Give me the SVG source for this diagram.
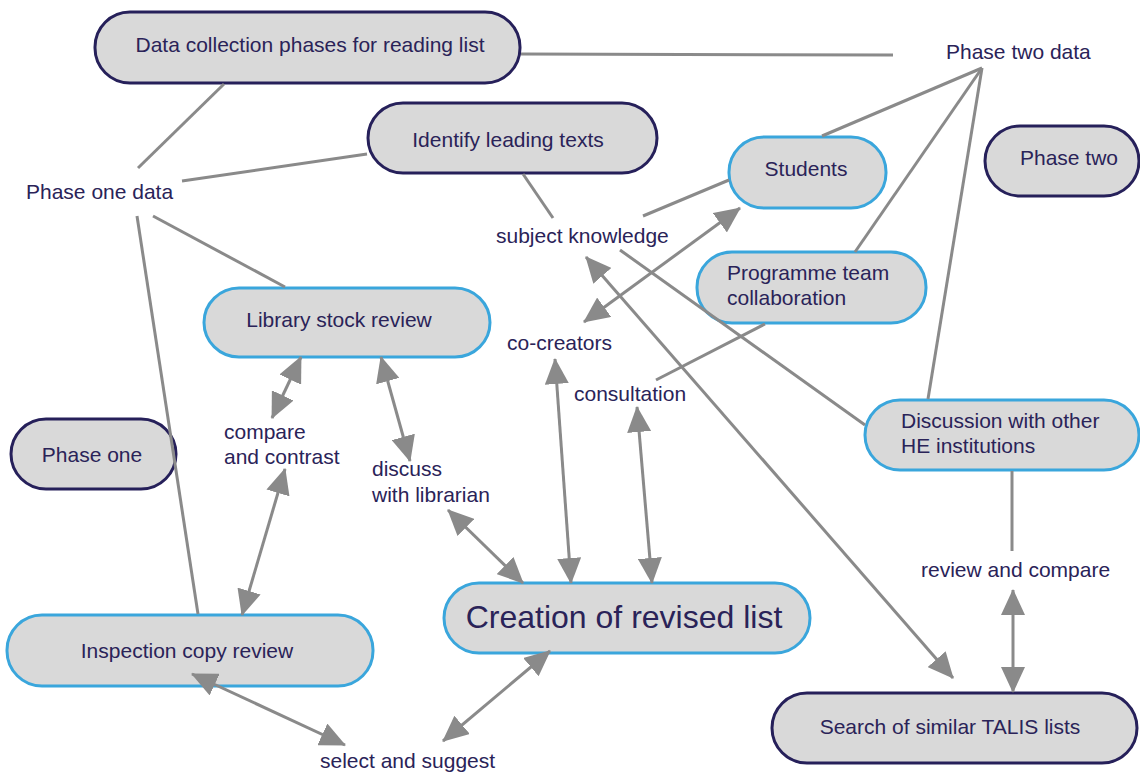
<svg xmlns="http://www.w3.org/2000/svg" width="1140" height="772" viewBox="0 0 1140 772">
<defs>
<style>
.nd{fill:#d9d9d9;stroke-width:3}
.dk{stroke:#26205a}
.bl{stroke:#3aa6dc}
text{font-family:"Liberation Sans",Arial,sans-serif;font-size:21px;fill:#2a2358}
.c{text-anchor:middle}
.ln{stroke:#8a8a8a;stroke-width:3;fill:none}
.ar{marker-start:url(#ah);marker-end:url(#ah)}
.a1{marker-end:url(#ah)}
</style>
<marker id="ah" markerUnits="userSpaceOnUse" markerWidth="26" markerHeight="24" refX="25" refY="12" orient="auto-start-reverse" viewBox="0 0 26 24">
<path d="M0,0 L26,12 L0,24 z" fill="#8a8a8a"/>
</marker>
</defs>
<rect width="1140" height="772" fill="#ffffff"/>
<g id="n-data-collection">
<rect class="nd dk" x="95" y="12" width="425" height="71" rx="35"/>
<text class="c" x="310" y="52">Data collection phases for reading list</text>
</g>
<g id="n-identify">
<rect class="nd dk" x="368" y="103" width="289" height="70" rx="35"/>
<text class="c" x="508" y="147">Identify leading texts</text>
</g>
<g id="n-students">
<rect class="nd bl" x="729" y="137" width="157" height="71" rx="35"/>
<text class="c" x="806" y="176">Students</text>
</g>
<g id="n-phase-two">
<rect class="nd dk" x="985" y="126" width="154" height="70" rx="35"/>
<text class="c" x="1069" y="165">Phase two</text>
</g>
<g id="n-programme">
<rect class="nd bl" x="697" y="252" width="229" height="71" rx="35"/>
<text x="727" y="280">Programme team</text>
<text x="727" y="305">collaboration</text>
</g>
<g id="n-library">
<rect class="nd bl" x="204" y="288" width="286" height="69" rx="35"/>
<text class="c" x="339" y="327">Library stock review</text>
</g>
<g id="n-phase-one">
<rect class="nd dk" x="11" y="419" width="165" height="70" rx="35"/>
<text class="c" x="92" y="462">Phase one</text>
</g>
<g id="n-discussion">
<rect class="nd bl" x="865" y="400" width="274" height="70" rx="35"/>
<text x="901" y="428">Discussion with other</text>
<text x="901" y="453">HE institutions</text>
</g>
<g id="n-creation">
<rect class="nd bl" x="444" y="583" width="366" height="70" rx="35"/>
<text class="c" x="624" y="628" style="font-size:32px">Creation of revised list</text>
</g>
<g id="n-inspection">
<rect class="nd bl" x="7" y="615" width="366" height="71" rx="35"/>
<text class="c" x="187" y="658">Inspection copy review</text>
</g>
<g id="n-talis">
<rect class="nd dk" x="772" y="693" width="365" height="70" rx="35"/>
<text class="c" x="950" y="734">Search of similar TALIS lists</text>
</g>
<g id="labels">
<text x="946" y="59">Phase two data</text>
<text x="26" y="199">Phase one data</text>
<text x="496" y="243">subject knowledge</text>
<text x="507" y="350">co-creators</text>
<text x="574" y="401">consultation</text>
<text x="224" y="439">compare</text>
<text x="224" y="464">and contrast</text>
<text x="372" y="476">discuss</text>
<text x="372" y="502">with librarian</text>
<text x="921" y="577">review and compare</text>
<text x="320" y="768">select and suggest</text>
</g>
<g id="connectors">
<line class="ln" x1="521" y1="54" x2="893" y2="55"/>
<line class="ln" x1="224" y1="84" x2="138" y2="168"/>
<line class="ln" x1="367" y1="154" x2="182" y2="181"/>
<line class="ln" x1="153" y1="216" x2="285" y2="287"/>
<line class="ln" x1="137" y1="216" x2="198" y2="614"/>
<line class="ln" x1="523" y1="174" x2="553" y2="218"/>
<line class="ln" x1="982" y1="68" x2="822" y2="136"/>
<line class="ln" x1="982" y1="68" x2="855" y2="252"/>
<line class="ln" x1="982" y1="68" x2="928" y2="399"/>
<line class="ln" x1="729" y1="180" x2="643" y2="216"/>
<line class="ln" x1="620" y1="250" x2="865" y2="425"/>
<line class="ln" x1="765" y1="324" x2="656" y2="380"/>
<line class="ln" x1="1012" y1="471" x2="1012" y2="551"/>
<line class="ln ar" x1="584" y1="322" x2="740" y2="208"/>
<line class="ln ar" x1="586" y1="257" x2="953" y2="678"/>
<line class="ln ar" x1="555" y1="359" x2="571" y2="583"/>
<line class="ln ar" x1="637" y1="407" x2="652" y2="583"/>
<line class="ln ar" x1="448" y1="510" x2="523" y2="583"/>
<line class="ln ar" x1="381" y1="357" x2="410" y2="461"/>
<line class="ln ar" x1="301" y1="357" x2="272" y2="418"/>
<line class="ln ar" x1="285" y1="469" x2="242" y2="615"/>
<line class="ln ar" x1="192" y1="674" x2="345" y2="745"/>
<line class="ln ar" x1="443" y1="741" x2="550" y2="651"/>
<line class="ln ar" x1="1013" y1="590" x2="1013" y2="692"/>
</g>
</svg>
